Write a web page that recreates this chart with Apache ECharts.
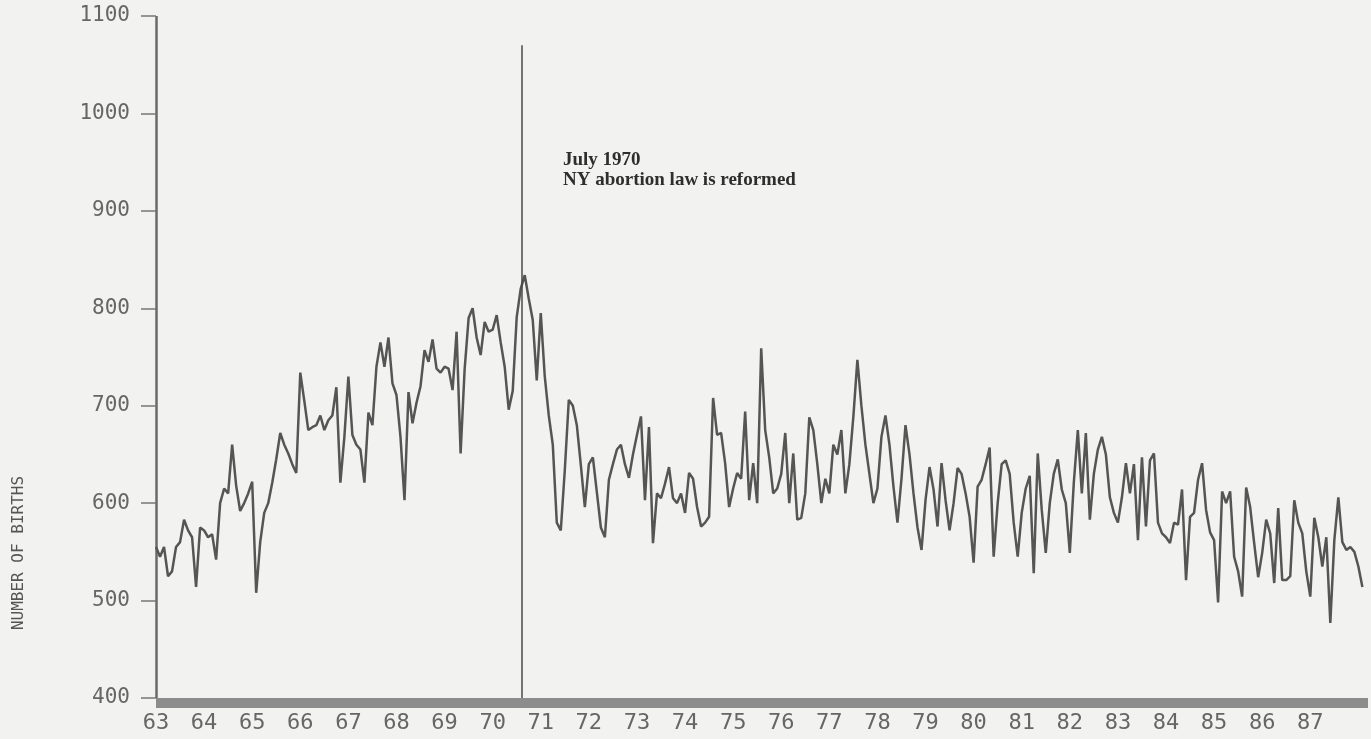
<!DOCTYPE html>
<html>
<head>
<meta charset="utf-8">
<script src="https://cdn.jsdelivr.net/npm/echarts@6/dist/echarts.min.js"></script>
<style>
html,body{margin:0;padding:0;background:#f2f2f0;}
#chart{width:1371px;height:739px;}
</style>
</head>
<body>
<div id="chart"></div>
<script>
// Monthly number of births (first month = Jan 1963)
const START_YEAR = 63;
const births1963_1967 = [
  555,545,555,525,530,555,560,583,572,565,514,575,
  572,565,568,542,600,615,610,660,618,592,600,610,
  622,508,560,590,600,621,645,672,660,651,640,631,
  734,705,675,678,680,690,675,685,690,719,621,668,
  730,670,660,655,621,693,680,740,765,740,770,723
];
const births1968_1972 = [
  711,668,603,714,682,703,720,757,745,768,738,734,
  740,738,716,776,651,737,790,800,770,752,786,776,
  778,793,765,740,696,715,791,820,834,810,788,726,
  795,730,690,660,580,572,634,706,700,680,639,596,
  640,647,611,575,565,624,640,655,660,640,626,650
];
const births1973_1977 = [
  670,689,603,678,559,610,605,620,637,605,600,610,
  590,631,625,596,576,580,586,708,670,672,641,596,
  615,631,625,694,603,641,600,759,675,647,610,615,
  630,672,600,651,583,585,610,688,675,640,600,625,
  610,660,650,675,610,640,689,747,700,660,630,600
];
const births1978_1982 = [
  615,668,690,660,617,580,625,680,650,610,575,552,
  603,637,614,576,641,603,572,600,636,630,610,586,
  539,617,624,640,657,545,600,640,644,630,580,545,
  590,615,628,528,651,593,549,600,630,645,614,600,
  549,621,675,610,672,583,630,655,668,650,606,590
];
const births1983_1988 = [
  580,606,641,610,640,562,647,576,644,651,580,569,
  565,559,580,578,614,521,586,590,624,641,593,570,
  562,498,612,600,612,545,530,504,616,596,559,524,
  549,583,569,518,595,521,521,525,603,580,569,530,
  504,585,565,535,565,477,562,606,560,552,555,550,
  535,514
];
const yearTicks = ['63','64','65','66','67','68','69','70','71','72','73','74','75',
                   '76','77','78','79','80','81','82','83','84','85','86','87'];
const yTicks = [400,500,600,700,800,900,1000,1100];
const eventX = 70.61; // July 1970
const eventLines = ['July 1970', 'NY abortion law is reformed'];

const births = [].concat(births1963_1967, births1968_1972, births1973_1977, births1978_1982, births1983_1988);
const seriesData = births.map((v, i) => [START_YEAR + i / 12, v]);

const chart = echarts.init(document.getElementById('chart'), null, {renderer:'canvas'});
const monoFont = '"DejaVu Sans Mono", monospace';
chart.setOption({
  backgroundColor: '#f2f2f0',
  animation: false,
  grid: {left: 156, right: 3, top: 16, bottom: 41, containLabel: false},
  xAxis: {
    type: 'value',
    min: 63, max: 88.2, interval: 1,
    axisLine: {show: true, lineStyle: {color: '#8c8c8c', width: 10, cap: 'butt'}},
    axisTick: {show: false},
    splitLine: {show: false},
    offset: 5,
    axisLabel: {
      margin: 9,
      color: '#666',
      fontFamily: monoFont,
      fontSize: 22,
      formatter: v => yearTicks.indexOf(String(Math.round(v))) >= 0 && Math.abs(v - Math.round(v)) < 1e-6 ? String(Math.round(v)) : '',
      showMaxLabel: false
    }
  },
  yAxis: {
    type: 'value',
    min: yTicks[0], max: yTicks[yTicks.length - 1], interval: 100,
    axisLine: {show: true, lineStyle: {color: '#6a6a6a', width: 2.5, cap: 'butt'}},
    axisTick: {show: true, length: 15, lineStyle: {color: '#777', width: 1.5}},
    splitLine: {show: false},
    axisLabel: {margin: 26, color: '#666', fontFamily: monoFont, fontSize: 21,
                formatter: v => String(v)}
  },
  series: [{
    type: 'line',
    data: seriesData,
    showSymbol: false,
    lineStyle: {color: '#555', width: 2.5},
    z: 3,
    markLine: {
      silent: true,
      symbol: ['none', 'none'],
      label: {show: false},
      lineStyle: {color: '#4a4a4a', width: 1.5, type: 'solid'},
      data: [[{coord: [eventX, 400]}, {coord: [eventX, 1070]}]]
    }
  }],
  graphic: [
    {
      type: 'text', x: 19, y: 553, rotation: Math.PI / 2,
      style: {text: 'NUMBER OF BIRTHS', fill: '#555', font: '16px ' + monoFont,
              align: 'center', verticalAlign: 'middle'}
    },
    {
      type: 'text', left: 563, top: 150,
      style: {text: eventLines.join('\n'), fill: '#2e2e2e',
              font: 'bold 19px "Liberation Serif", serif', lineHeight: 20}
    }
  ]
});
</script>
</body>
</html>
